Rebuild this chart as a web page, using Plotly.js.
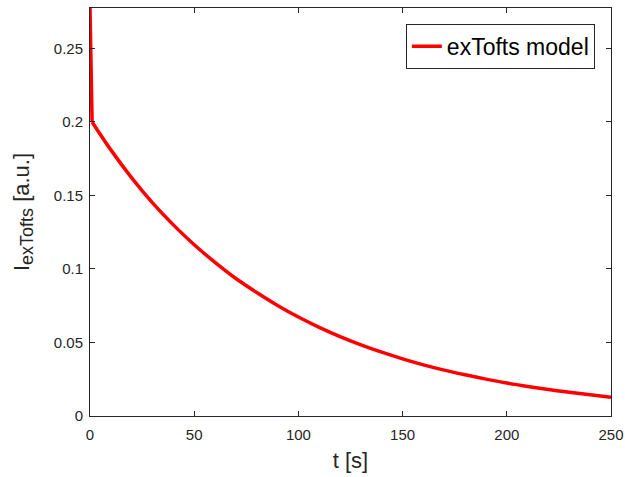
<!DOCTYPE html>
<html>
<head>
<meta charset="utf-8">
<script src="https://cdn.plot.ly/plotly-3.0.1.min.js"></script>
<style>html,body{margin:0;padding:0;background:#fff;}#chart{width:625px;height:477px;}</style>
</head>
<body>
<div id="chart"></div>
<script>
var timeSec = [0, 1, 10, 20, 30, 40, 50, 60, 70, 80, 90, 100, 110, 120, 130, 140, 150, 160, 170, 180, 190, 200, 210, 220, 230, 240, 250];
var intensity = [0.2775, 0.2, 0.181, 0.162, 0.145, 0.130, 0.1165, 0.1045, 0.0935, 0.084, 0.0752, 0.0673, 0.0603, 0.054, 0.0484, 0.0434, 0.0389, 0.0348, 0.0312, 0.028, 0.0251, 0.0224, 0.0201, 0.018, 0.0161, 0.0144, 0.0128];
var seriesName = "exTofts model";
var xTicks = [0, 50, 100, 150, 200, 250];
var xTickText = ["0", "50", "100", "150", "200", "250"];
var yTicks = [0, 0.05, 0.1, 0.15, 0.2, 0.25];
var yTickText = ["0", "0.05", "0.1", "0.15", "0.2", "0.25"];

var axisColor = "#262626";
var fontFam = "Liberation Sans, Arial, sans-serif";
var lineStyle = {color: "#ff0000", width: 3.5};

// initial bolus spike (first two samples), then smooth decay
var spike = {
  x: timeSec.slice(0, 2), y: intensity.slice(0, 2), type: "scatter", mode: "lines",
  name: seriesName, legendgroup: "m", showlegend: false, line: lineStyle
};
var decay = {
  x: timeSec.slice(1), y: intensity.slice(1), type: "scatter", mode: "lines",
  name: seriesName, legendgroup: "m",
  line: {color: lineStyle.color, width: lineStyle.width, shape: "spline", smoothing: 1}
};

var layout = {
  width: 625, height: 477,
  margin: {l: 90, r: 14, t: 8, b: 61, pad: 0},
  paper_bgcolor: "#ffffff", plot_bgcolor: "#ffffff",
  font: {family: fontFam, color: axisColor, size: 15},
  showlegend: true,
  legend: {
    x: 0.969, y: 0.961, xanchor: "right", yanchor: "top",
    bgcolor: "#ffffff", bordercolor: axisColor, borderwidth: 1,
    font: {family: fontFam, size: 23, color: "#000000"},
    itemwidth: 30, tracegroupgap: 0
  },
  xaxis: {
    range: [0, 250], tickvals: xTicks, ticktext: xTickText,
    showgrid: false, zeroline: false, showline: true, linecolor: axisColor, linewidth: 1,
    mirror: "ticks", ticks: "inside", ticklen: 5, tickcolor: axisColor,
    tickfont: {size: 15, color: axisColor}, ticklabelstandoff: 5,
    title: {text: "t [s]", font: {size: 22, color: axisColor}, standoff: 10}
  },
  yaxis: {
    range: [0, 0.2775], tickvals: yTicks, ticktext: yTickText,
    showgrid: false, zeroline: false, showline: true, linecolor: axisColor, linewidth: 1,
    mirror: "ticks", ticks: "inside", ticklen: 5, tickcolor: axisColor,
    tickfont: {size: 15, color: axisColor}, ticklabelstandoff: 3,
    title: {text: "I<sub><span style='font-size:18px'>exTofts</span></sub> [a.u.]", font: {size: 22, color: axisColor}, standoff: 18}
  }
};

Plotly.newPlot("chart", [spike, decay], layout, {displayModeBar: false, staticPlot: true});
</script>
</body>
</html>
